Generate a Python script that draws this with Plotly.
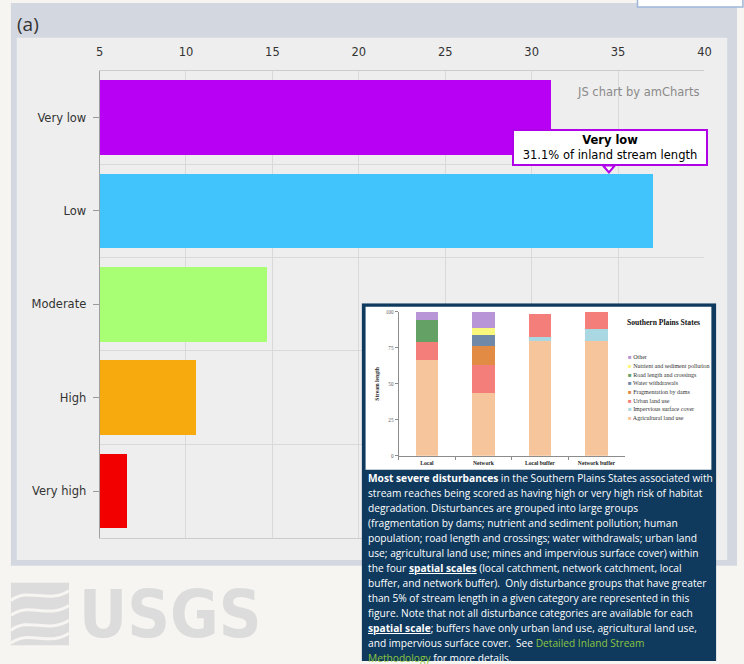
import plotly.graph_objects as go

W, H = 744, 664

# ---------------- main chart data ----------------
risk_categories = ["Very low", "Low", "Moderate", "High", "Very high"]
stream_pct = [31.1, 37.0, 14.7, 10.6, 6.6]
risk_colors = ["#b800f5", "#41c4fc", "#a8ff74", "#f7aa0e", "#f20000"]
x_ticks = [5, 10, 15, 20, 25, 30, 35, 40]

# ---------------- inset chart data (percent of stream length) ----------------
scales = ["Local", "Network", "Local buffer", "Network buffer"]
agricultural = [66.4, 43.6, 80.1, 79.5]
impervious = [0, 0, 2.3, 8.6]
urban = [12.4, 19.4, 16.0, 11.9]
dams = [0, 13.0, 0, 0]
withdrawals = [0, 7.8, 0, 0]
roads = [15.5, 0, 0, 0]
nutrients = [0, 5.0, 0, 0]
other = [5.7, 11.2, 0, 0]
inset_y_ticks = [0, 25, 50, 75, 100]

series_names = ["Agricultural land use", "Impervious surface cover", "Urban land use",
                "Fragmentation by dams", "Water withdrawals", "Road length and crossings",
                "Nutrient and sediment pollution", "Other"]
series_values = [agricultural, impervious, urban, dams, withdrawals, roads, nutrients, other]
series_colors = ["#f6c59b", "#a9d8e3", "#f47e7a", "#e28b45", "#7089a8", "#63a264",
                 "#faf77d", "#b795d6"]

caption_lines = [
    "<b>Most severe disturbances</b> in the Southern Plains States associated with",
    "stream reaches being scored as having high or very high risk of habitat",
    "degradation. Disturbances are grouped into large groups",
    "(fragmentation by dams; nutrient and sediment pollution; human",
    "population; road length and crossings; water withdrawals; urban land",
    "use; agricultural land use; mines and impervious surface cover) within",
    "the four <b><u>spatial scales</u></b> (local catchment, network catchment, local",
    "buffer, and network buffer).  Only disturbance groups that have greater",
    "than 5% of stream length in a given category are represented in this",
    "figure. Note that not all disturbance categories are available for each",
    "<b><u>spatial scale</u></b>; buffers have only urban land use, agricultural land use,",
    "and impervious surface cover.  See <span style='color:#8cc540'>Detailed Inland Stream</span>",
    "<span style='color:#8cc540'>Methodology</span> for more details.",
]


def px(x):
    return x / W


def py(y):
    return 1 - y / H


fig = go.Figure()

# main horizontal bars
fig.add_trace(go.Bar(
    x=stream_pct, y=list(range(len(risk_categories))), orientation="h",
    xaxis="x", yaxis="y", width=0.8,
    marker=dict(color=risk_colors, line=dict(width=0)),
    hoverinfo="skip", showlegend=False,
))

# inset stacked bars
for name, vals, col in zip(series_names, series_values, series_colors):
    fig.add_trace(go.Bar(
        x=scales, y=vals, name=name, xaxis="x3", yaxis="y3", width=0.4,
        marker=dict(color=col, line=dict(width=0)), hoverinfo="skip", showlegend=False,
    ))

main_font = "DejaVu Sans, Verdana, sans-serif"
serif = "Liberation Serif, Times New Roman, serif"

fig.update_layout(
    width=W, height=H, autosize=False,
    margin=dict(l=0, r=0, t=0, b=0),
    paper_bgcolor="#f6f5f1",
    plot_bgcolor="rgba(0,0,0,0)",
    barmode="stack",
    showlegend=False,
    xaxis=dict(
        domain=[px(97), px(711)], range=[5, 40], side="top", anchor="y",
        tickmode="array", tickvals=x_ticks, ticks="", ticklabelstandoff=9,
        showgrid=True, gridcolor="#d9d9d9", gridwidth=1, zeroline=False,
        showline=True, linecolor="#cccccc", mirror=True,
        tickfont=dict(family=main_font, size=11.5, color="#333333"),
        fixedrange=True,
    ),
    yaxis=dict(
        domain=[py(539.6), py(68.4)], range=[len(risk_categories) - 0.5, -0.5], anchor="x",
        tickmode="array", tickvals=list(range(len(risk_categories))), ticktext=risk_categories,
        ticks="outside", ticklen=6, tickcolor="#999999", ticklabelstandoff=4,
        showgrid=False, zeroline=False, showline=True, linecolor="#a0a0a0",
        minor=dict(tickmode="array", tickvals=[i + 0.5 for i in range(len(risk_categories) - 1)],
                   showgrid=True, gridcolor="#d9d9d9", ticks=""),
        tickfont=dict(family=main_font, size=11.5, color="#333333"),
        fixedrange=True,
    ),
    # frame subplot holding the caption box
    xaxis2=dict(domain=[px(363), px(723)], range=[0, 1], visible=False, anchor="y2", fixedrange=True),
    yaxis2=dict(domain=[0, py(303)], range=[0, 1], visible=False, anchor="x2", fixedrange=True),
    # inset stacked chart
    xaxis3=dict(
        domain=[px(400.5), px(630)], type="category", range=[-0.5, len(scales) - 0.5], anchor="y3",
        showline=True, linecolor="#8c8c8c", linewidth=1, ticks="outside", tickson="boundaries",
        ticklen=3, tickcolor="#8c8c8c", showgrid=False, zeroline=False,
        tickfont=dict(family=serif, size=5.6, color="#222222", weight="bold"),
        ticklabelstandoff=1, fixedrange=True,
    ),
    yaxis3=dict(
        domain=[py(457), py(311.7)], range=[0, 100], anchor="x3",
        tickmode="array", tickvals=inset_y_ticks, ticksuffix="%",
        ticks="outside", ticklen=3, tickcolor="#8c8c8c",
        showline=True, linecolor="#8c8c8c", linewidth=1, showgrid=False, zeroline=False,
        tickfont=dict(family=serif, size=5.2, color="#555555"),
        title=dict(text="Stream length", standoff=5,
                   font=dict(family=serif, size=5.6, color="#222222", weight="bold")),
        fixedrange=True,
    ),
)

shapes = [
    # grey-blue page frame
    dict(type="rect", xref="paper", yref="paper", x0=px(7), x1=1.0, y0=py(568), y1=1.0,
         fillcolor="#d3d8e0", line=dict(width=0), layer="below"),
    # chart panel
    dict(type="rect", xref="paper", yref="paper", x0=px(13), x1=px(734), y0=py(562), y1=py(35),
         fillcolor="#eeeeee", line=dict(width=0), layer="below"),
    # top-right button edge
    dict(type="rect", xref="paper", yref="paper", x0=px(643), x1=px(750), y0=py(4), y1=py(-8),
         fillcolor="#ffffff", line=dict(color="#9db6da", width=1.5), layer="below"),
    # USGS logo mark
    dict(type="rect", xref="paper", yref="paper", x0=px(7), x1=px(66), y0=py(648), y1=py(585),
         fillcolor="#dcdcdc", line=dict(width=0), layer="below"),
    # caption box (navy) and image area (white) on frame subplot
    dict(type="rect", xref="x2", yref="y2", x0=0, x1=1, y0=0, y1=1,
         fillcolor="#0f3a5e", line=dict(width=0), layer="below"),
    dict(type="rect", xref="x2", yref="y2", x0=(367 - 363) / 360, x1=(718 - 363) / 360,
         y0=1 - (471 - 303) / 361, y1=1 - (306.5 - 303) / 361,
         fillcolor="#ffffff", line=dict(width=0), layer="below"),
    # tooltip pointer
    dict(type="path", xref="paper", yref="paper",
         path=f"M {px(608)} {py(164)} L {px(614)} {py(171)} L {px(620)} {py(164)} Z",
         fillcolor="#ffffff", line=dict(color="#b000e8", width=2), layer="above"),
]
# white wave strokes of the logo mark
for yy in (597, 612, 627, 640):
    shapes.append(dict(
        type="path", xref="paper", yref="paper", layer="below",
        path=(f"M {px(7)} {py(yy + 6)} C {px(25)} {py(yy - 8)}, {px(45)} {py(yy + 10)}, "
              f"{px(66)} {py(yy - 4)}"),
        line=dict(color="#f6f5f1", width=3),
    ))
fig.update_layout(shapes=shapes)

annotations = [
    dict(text="(a)", x=px(11), y=py(21), xanchor="left", yanchor="middle",
         font=dict(family="Open Sans, sans-serif", size=19, color="#333333")),
    dict(text="JS chart by amCharts", x=px(708), y=py(90), xanchor="right", yanchor="middle",
         font=dict(family=main_font, size=11.5, color="#8a8a8a")),
    dict(text=f"<b>{risk_categories[0]}</b><br>{stream_pct[0]}% of inland stream length",
         x=px(615), y=py(146), xanchor="center", yanchor="middle",
         font=dict(family=main_font, size=11.5, color="#000000"),
         bgcolor="#ffffff", bordercolor="#b000e8", borderwidth=2, borderpad=2, width=188),
    dict(text="USGS", x=px(168), y=py(617), xanchor="center", yanchor="middle",
         font=dict(family="DejaVu Sans Condensed, DejaVu Sans, sans-serif", size=66,
                   color="#dcdcdc", weight="bold")),
    dict(text="Southern Plains States", x=px(669), y=py(322), xanchor="center", yanchor="middle",
         font=dict(family=serif, size=7.6, color="#111111", weight="bold")),
]

legend_y = [357.7, 366.3, 375, 383.6, 392.4, 401.2, 410, 418.8]
for i, (name, col) in enumerate(zip(series_names[::-1], series_colors[::-1])):
    annotations.append(dict(
        text=f"<span style='color:{col}'>■</span> {name}", x=px(631), y=py(legend_y[i]),
        xanchor="left", yanchor="middle",
        font=dict(family=serif, size=6, color="#333333")))

for i, line in enumerate(caption_lines):
    annotations.append(dict(
        text=line, x=px(367.5), y=py(479 + 15.2 * i), xanchor="left", yanchor="middle",
        font=dict(family="Open Sans, sans-serif", size=10.2, color="#ffffff")))

for a in annotations:
    a.setdefault("xref", "paper")
    a.setdefault("yref", "paper")
    a.setdefault("showarrow", False)
fig.update_layout(annotations=annotations)

fig.write_html(
    "out.html",
    config={"displayModeBar": False},
    post_script="document.body.style.margin='0';document.body.style.overflow='hidden';",
)
